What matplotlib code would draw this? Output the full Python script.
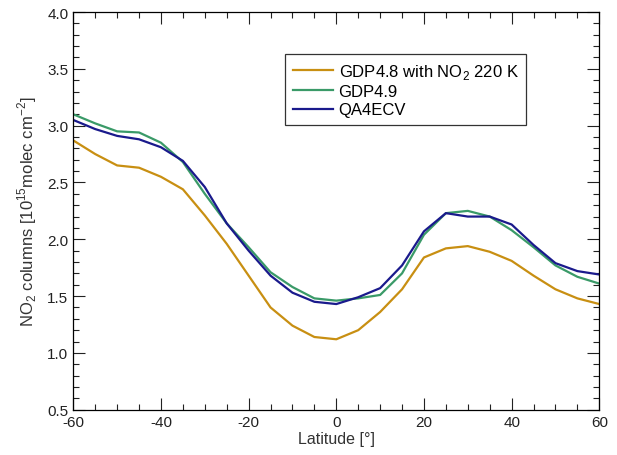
import matplotlib
matplotlib.use('Agg')
import matplotlib.pyplot as plt
from matplotlib.ticker import MultipleLocator, FormatStrFormatter

plt.rcParams['font.family'] = ['Liberation Sans', 'DejaVu Sans']
plt.rcParams['mathtext.fontset'] = 'custom'
plt.rcParams['mathtext.rm'] = 'Liberation Sans'
plt.rcParams['axes.unicode_minus'] = False

# Zonal mean NO2 columns, 5 degree latitude bins
latitude = list(range(-60, 65, 5))
gdp48_220k = [2.87, 2.75, 2.65, 2.63, 2.55, 2.44, 2.21, 1.96, 1.68, 1.40, 1.24, 1.14, 1.12,
              1.20, 1.36, 1.56, 1.84, 1.92, 1.94, 1.89, 1.81, 1.68, 1.56, 1.48, 1.43]
gdp49 = [3.10, 3.02, 2.95, 2.94, 2.85, 2.68, 2.40, 2.14, 1.93, 1.71, 1.58, 1.48, 1.46,
         1.48, 1.51, 1.70, 2.04, 2.23, 2.25, 2.20, 2.08, 1.93, 1.77, 1.67, 1.61]
qa4ecv = [3.05, 2.97, 2.91, 2.88, 2.81, 2.69, 2.46, 2.14, 1.90, 1.68, 1.53, 1.45, 1.43,
          1.49, 1.57, 1.77, 2.07, 2.23, 2.20, 2.20, 2.13, 1.95, 1.79, 1.72, 1.69]

fig = plt.figure(figsize=(6.17, 4.56), dpi=100)
ax = fig.add_axes([0.1188, 0.0993, 0.8525, 0.8721])

ax.plot(latitude, gdp48_220k, color='#c88f12', lw=1.6, label='GDP4.8 with NO$_2$ 220 K')
ax.plot(latitude, gdp49, color='#3a9a68', lw=1.6, label='GDP4.9')
ax.plot(latitude, qa4ecv, color='#1a1a8c', lw=1.6, label='QA4ECV')

ax.set_xlim(-60, 60)
ax.set_ylim(0.5, 4.0)
ax.xaxis.set_major_locator(MultipleLocator(20))
ax.xaxis.set_minor_locator(MultipleLocator(5))
ax.yaxis.set_major_locator(MultipleLocator(0.5))
ax.yaxis.set_minor_locator(MultipleLocator(0.1))
ax.yaxis.set_major_formatter(FormatStrFormatter('%.1f'))
ax.tick_params(which='both', direction='in', top=True, right=True,
               labelsize=11, colors='#222222', width=0.8)
ax.tick_params(which='major', length=8.5)
ax.tick_params(which='minor', length=4.5)
for sp in ax.spines.values():
    sp.set_linewidth(0.9)

ax.set_xlabel('Latitude [°]', fontsize=11.5, color='#333333', labelpad=2)
ax.set_ylabel('NO$_2$ columns [10$^{15}$molec cm$^{-2}$]', fontsize=12, color='#333333', labelpad=6)

leg = ax.legend(loc='upper left', bbox_to_anchor=(0.403, 0.894), borderaxespad=0,
                fontsize=12, frameon=True, fancybox=False, edgecolor='black',
                handlelength=2.4, borderpad=0.45, labelspacing=0.2, handletextpad=0.35)
leg.get_frame().set_linewidth(0.9)

fig.savefig('out.png', dpi=100)
